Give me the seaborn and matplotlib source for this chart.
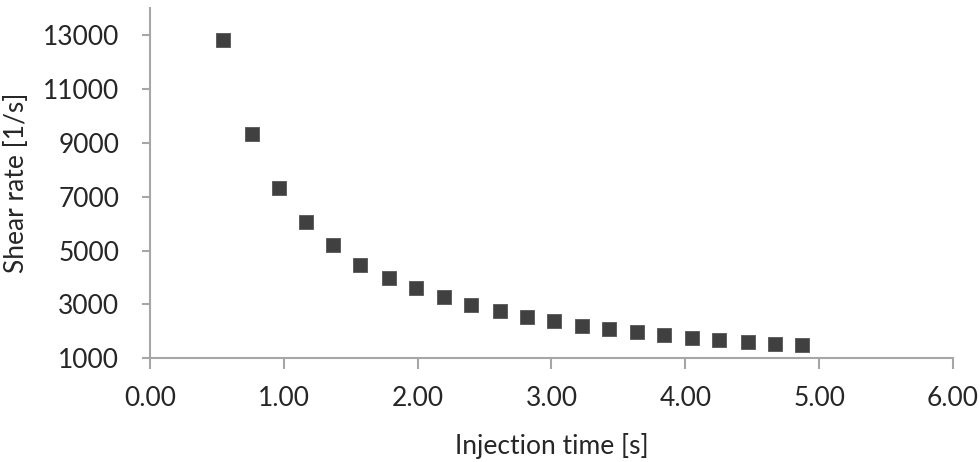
import matplotlib
matplotlib.use("Agg")
import matplotlib.pyplot as plt
import seaborn as sns
import pandas as pd

injection_time = [0.548, 0.762, 0.963, 1.165, 1.367, 1.568, 1.787, 1.986, 2.200, 2.402,
                  2.614, 2.816, 3.017, 3.229, 3.431, 3.642, 3.844, 4.053, 4.254, 4.466,
                  4.668, 4.869]
shear_rate = [12826, 9319, 7319, 6048, 5196, 4456, 3985, 3593, 3259, 2985,
              2763, 2530, 2370, 2196, 2085, 1974, 1863, 1763, 1689, 1593,
              1530, 1481]
x_ticks = [0, 1, 2, 3, 4, 5, 6]
y_ticks = [1000, 3000, 5000, 7000, 9000, 11000, 13000]

df = pd.DataFrame({"t": injection_time, "r": shear_rate})

sns.set_theme(style="white")
plt.rcParams["font.family"] = ["Lato", "DejaVu Sans"]

fig = plt.figure(figsize=(9.8, 4.62), dpi=100)
ax = fig.add_axes([0.153, 0.2245, 0.8194, 0.7575])
sns.scatterplot(data=df, x="t", y="r", marker="s", s=110, color="#404040",
                edgecolor="#555555", linewidth=0.6, ax=ax, zorder=3, clip_on=False)

ax.set_xlim(0, 6)
ax.set_ylim(1000, 14000)
ax.set_xticks(x_ticks)
ax.set_xticklabels([f"{v:.2f}" for v in x_ticks])
ax.set_yticks(y_ticks)
ax.set_yticklabels([str(v) for v in y_ticks])

for s in ["top", "right"]:
    ax.spines[s].set_visible(False)
for s in ["left", "bottom"]:
    ax.spines[s].set_color("#a6a6a6")
    ax.spines[s].set_linewidth(1.5)
ax.tick_params(axis="both", bottom=True, left=True, colors="#a6a6a6", width=1.5,
               direction="out", labelcolor="#262626", labelsize=19)
ax.tick_params(axis="x", length=8, pad=12)
ax.tick_params(axis="y", length=6, pad=16)

ax.set_xlabel("Injection time [s]", fontsize=19, color="#262626", labelpad=16)
ax.set_ylabel("Shear rate [1/s]", fontsize=19, color="#262626", labelpad=10)

fig.savefig("out.png", dpi=100)
